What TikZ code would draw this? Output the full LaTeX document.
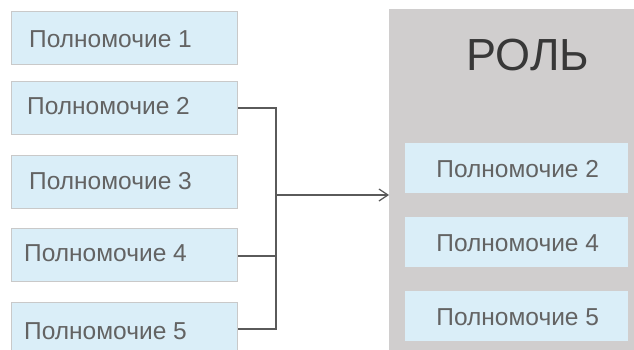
\documentclass[tikz,border=0pt]{standalone}
\usepackage{fontspec}
\setmainfont{Liberation Sans}
\usetikzlibrary{arrows.meta}
\definecolor{boxfill}{HTML}{DAEEF8}
\definecolor{boxline}{HTML}{C9C9C9}
\definecolor{txt}{HTML}{636363}
\definecolor{panel}{HTML}{D0CECE}
\definecolor{conn}{HTML}{5A5A5A}
\tikzset{
  leftbox/.style={draw=boxline, line width=1.2pt, fill=boxfill, minimum width=226pt, minimum height=53pt, inner sep=0pt, anchor=north west},
  rightbox/.style={fill=boxfill, minimum width=223pt, minimum height=50pt, inner sep=0pt, anchor=north west},
  lbl/.style={text=txt, font=\fontsize{24.5}{26}\selectfont, inner sep=0pt},
  conn/.style={draw=conn, line width=1.2pt}
}
\begin{document}
\begin{tikzpicture}[x=1pt,y=-1pt]
\useasboundingbox (0,0) rectangle (634,350);
\clip (0,0) rectangle (634,350);
\fill[white] (0,0) rectangle (634,350);
% panel
\fill[panel] (389,9) rectangle (640,360);
\node[text=black!78, font=\fontsize{45}{48}\selectfont, inner sep=0pt] (role) at (528,55) {РОЛЬ};
% left boxes
\node[leftbox] (p1) at (11,11) {};
\node[leftbox] (p2) at (11,81) {};
\node[leftbox] (p3) at (11,155) {};
\node[leftbox] (p4) at (11,228) {};
\node[leftbox, minimum height=60pt] (p5) at (11,302) {};
\node[lbl, anchor=west] at (29,39) {Полномочие 1};
\node[lbl, anchor=west] at (27,106) {Полномочие 2};
\node[lbl, anchor=west] at (29,181) {Полномочие 3};
\node[lbl, anchor=west] at (24,253) {Полномочие 4};
\node[lbl, anchor=west] at (24,331) {Полномочие 5};
% right boxes
\node[rightbox] (r2) at (405,143) {};
\node[rightbox] (r4) at (405,217) {};
\node[rightbox] (r5) at (405,291) {};
\node[lbl] at ([xshift=1pt,yshift=-1pt]r2.center) {Полномочие 2};
\node[lbl] at ([xshift=1pt,yshift=-1pt]r4.center) {Полномочие 4};
\node[lbl] at ([xshift=1pt,yshift=-1pt]r5.center) {Полномочие 5};
% connectors
\coordinate (j2) at (276,108);
\coordinate (j4) at (276,256);
\coordinate (j5) at (276,329);
\coordinate (jm) at (276,195);
\coordinate (tip) at (389,195);
\draw[conn] (p2.east |- j2) -- (j2) -- (j5) -- (p5.east |- j5);
\draw[conn] (p4.east |- j4) -- (j4);
\draw[conn, -{Straight Barb[length=9pt,width=12pt]}] (jm) -- (tip);
\end{tikzpicture}
\end{document}
